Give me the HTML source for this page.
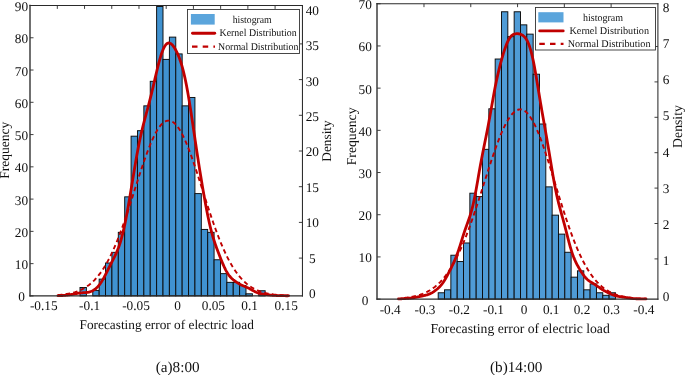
<!DOCTYPE html>
<html><head><meta charset="utf-8"><title>Histogram figure</title>
<style>
html,body{margin:0;padding:0;background:#fff;}
body{width:685px;height:375px;overflow:hidden;}
svg{display:block;will-change:transform;font-family:"Liberation Serif",serif;fill:#111;text-rendering:geometricPrecision;}
</style></head><body>
<svg width="685" height="375" viewBox="0 0 685 375">
<g fill="#4092d0" stroke="#0c0c0c" stroke-width="0.95">
<rect x="80.00" y="287.51" width="6.38" height="8.39"/>
<rect x="92.77" y="290.41" width="6.38" height="5.49"/>
<rect x="99.16" y="279.12" width="6.38" height="16.78"/>
<rect x="105.54" y="262.99" width="6.38" height="32.91"/>
<rect x="111.92" y="252.34" width="6.38" height="43.56"/>
<rect x="118.31" y="232.33" width="6.38" height="63.57"/>
<rect x="124.69" y="196.84" width="6.38" height="99.06"/>
<rect x="131.08" y="136.18" width="6.38" height="159.72"/>
<rect x="137.47" y="130.69" width="6.38" height="165.21"/>
<rect x="143.85" y="105.85" width="6.38" height="190.05"/>
<rect x="150.24" y="81.33" width="6.38" height="214.57"/>
<rect x="156.62" y="6.50" width="6.38" height="289.40"/>
<rect x="163.00" y="59.39" width="6.38" height="236.51"/>
<rect x="169.39" y="37.12" width="6.38" height="258.78"/>
<rect x="175.77" y="53.90" width="6.38" height="242.00"/>
<rect x="182.16" y="105.85" width="6.38" height="190.05"/>
<rect x="188.55" y="97.46" width="6.38" height="198.44"/>
<rect x="194.93" y="193.61" width="6.38" height="102.29"/>
<rect x="201.31" y="229.43" width="6.38" height="66.47"/>
<rect x="207.70" y="232.33" width="6.38" height="63.57"/>
<rect x="214.09" y="259.76" width="6.38" height="36.14"/>
<rect x="220.47" y="273.64" width="6.38" height="22.26"/>
<rect x="226.85" y="282.35" width="6.38" height="13.55"/>
<rect x="233.24" y="282.35" width="6.38" height="13.55"/>
<rect x="239.62" y="285.57" width="6.38" height="10.33"/>
<rect x="246.01" y="293.80" width="6.38" height="2.10"/>
<rect x="258.78" y="290.74" width="6.38" height="5.16"/>
</g>
<path d="M58.00,295.07 L58.78,295.01 L59.55,294.94 L60.33,294.86 L61.10,294.78 L61.88,294.70 L62.66,294.61 L63.43,294.51 L64.21,294.41 L64.98,294.30 L65.76,294.19 L66.54,294.06 L67.31,293.93 L68.09,293.79 L68.86,293.65 L69.64,293.49 L70.41,293.32 L71.19,293.14 L71.97,292.96 L72.74,292.76 L73.52,292.55 L74.29,292.32 L75.07,292.09 L75.85,291.84 L76.62,291.58 L77.40,291.30 L78.17,291.01 L78.95,290.70 L79.73,290.37 L80.50,290.03 L81.28,289.67 L82.05,289.29 L82.83,288.89 L83.61,288.48 L84.38,288.04 L85.16,287.58 L85.93,287.09 L86.71,286.59 L87.48,286.06 L88.26,285.50 L89.04,284.92 L89.81,284.31 L90.59,283.68 L91.36,283.02 L92.14,282.33 L92.92,281.61 L93.69,280.86 L94.47,280.08 L95.24,279.27 L96.02,278.42 L96.80,277.54 L97.57,276.63 L98.35,275.68 L99.12,274.70 L99.90,273.68 L100.68,272.63 L101.45,271.54 L102.23,270.41 L103.00,269.24 L103.78,268.03 L104.56,266.78 L105.33,265.50 L106.11,264.17 L106.88,262.80 L107.66,261.39 L108.43,259.95 L109.21,258.46 L109.99,256.93 L110.76,255.35 L111.54,253.74 L112.31,252.09 L113.09,250.39 L113.87,248.65 L114.64,246.88 L115.42,245.06 L116.19,243.21 L116.97,241.31 L117.75,239.38 L118.52,237.41 L119.30,235.40 L120.07,233.35 L120.85,231.28 L121.63,229.16 L122.40,227.02 L123.18,224.84 L123.95,222.63 L124.73,220.40 L125.51,218.14 L126.28,215.85 L127.06,213.53 L127.83,211.20 L128.61,208.84 L129.38,206.47 L130.16,204.08 L130.94,201.68 L131.71,199.26 L132.49,196.84 L133.26,194.40 L134.04,191.97 L134.82,189.52 L135.59,187.08 L136.37,184.65 L137.14,182.21 L137.92,179.79 L138.70,177.38 L139.47,174.98 L140.25,172.59 L141.02,170.23 L141.80,167.89 L142.58,165.57 L143.35,163.28 L144.13,161.02 L144.90,158.80 L145.68,156.61 L146.45,154.46 L147.23,152.36 L148.01,150.30 L148.78,148.28 L149.56,146.32 L150.33,144.42 L151.11,142.57 L151.89,140.77 L152.66,139.04 L153.44,137.38 L154.21,135.78 L154.99,134.25 L155.77,132.79 L156.54,131.41 L157.32,130.10 L158.09,128.87 L158.87,127.72 L159.65,126.65 L160.42,125.66 L161.20,124.75 L161.97,123.94 L162.75,123.21 L163.53,122.56 L164.30,122.01 L165.08,121.55 L165.85,121.18 L166.63,120.90 L167.40,120.71 L168.18,120.61 L168.96,120.61 L169.73,120.70 L170.51,120.88 L171.28,121.15 L172.06,121.52 L172.84,121.97 L173.61,122.52 L174.39,123.15 L175.16,123.87 L175.94,124.68 L176.72,125.58 L177.49,126.56 L178.27,127.63 L179.04,128.77 L179.82,130.00 L180.60,131.30 L181.37,132.68 L182.15,134.13 L182.92,135.65 L183.70,137.25 L184.47,138.91 L185.25,140.63 L186.03,142.42 L186.80,144.26 L187.58,146.17 L188.35,148.12 L189.13,150.13 L189.91,152.19 L190.68,154.29 L191.46,156.43 L192.23,158.62 L193.01,160.84 L193.79,163.10 L194.56,165.38 L195.34,167.70 L196.11,170.04 L196.89,172.40 L197.67,174.78 L198.44,177.18 L199.22,179.59 L199.99,182.02 L200.77,184.45 L201.55,186.89 L202.32,189.33 L203.10,191.77 L203.87,194.21 L204.65,196.64 L205.42,199.07 L206.20,201.48 L206.98,203.89 L207.75,206.28 L208.53,208.65 L209.30,211.01 L210.08,213.35 L210.86,215.66 L211.63,217.95 L212.41,220.22 L213.18,222.45 L213.96,224.66 L214.74,226.84 L215.51,228.99 L216.29,231.11 L217.06,233.19 L217.84,235.23 L218.62,237.24 L219.39,239.22 L220.17,241.16 L220.94,243.05 L221.72,244.91 L222.49,246.73 L223.27,248.51 L224.05,250.25 L224.82,251.95 L225.60,253.61 L226.37,255.22 L227.15,256.80 L227.93,258.33 L228.70,259.83 L229.48,261.28 L230.25,262.69 L231.03,264.06 L231.81,265.39 L232.58,266.68 L233.36,267.93 L234.13,269.14 L234.91,270.31 L235.69,271.45 L236.46,272.54 L237.24,273.60 L238.01,274.62 L238.79,275.61 L239.57,276.56 L240.34,277.47 L241.12,278.35 L241.89,279.20 L242.67,280.01 L243.44,280.80 L244.22,281.55 L245.00,282.27 L245.77,282.96 L246.55,283.63 L247.32,284.26 L248.10,284.87 L248.88,285.46 L249.65,286.01 L250.43,286.54 L251.20,287.05 L251.98,287.54 L252.76,288.00 L253.53,288.44 L254.31,288.86 L255.08,289.26 L255.86,289.64 L256.64,290.00 L257.41,290.35 L258.19,290.67 L258.96,290.98 L259.74,291.28 L260.52,291.56 L261.29,291.82 L262.07,292.07 L262.84,292.31 L263.62,292.53 L264.39,292.74 L265.17,292.94 L265.95,293.13 L266.72,293.31 L267.50,293.48 L268.27,293.63 L269.05,293.78 L269.83,293.92 L270.60,294.05 L271.38,294.18 L272.15,294.29 L272.93,294.40 L273.71,294.51 L274.48,294.60 L275.26,294.69 L276.03,294.78 L276.81,294.86 L277.59,294.93 L278.36,295.00 L279.14,295.07 L279.91,295.13 L280.69,295.18 L281.46,295.24 L282.24,295.28 L283.02,295.33 L283.79,295.37 L284.57,295.41 L285.34,295.45 L286.12,295.48 L286.90,295.52 L287.67,295.55 L288.45,295.57 L289.22,295.60 L290.00,295.62" fill="none" stroke="#c00000" stroke-width="1.9" stroke-dasharray="4.5,3.2"/>
<path d="M58.00,295.72 L58.58,295.70 L59.15,295.67 L59.73,295.65 L60.31,295.62 L60.88,295.59 L61.46,295.56 L62.04,295.52 L62.61,295.49 L63.19,295.45 L63.76,295.40 L64.34,295.36 L64.92,295.31 L65.49,295.26 L66.07,295.20 L66.65,295.15 L67.22,295.08 L67.80,295.01 L68.38,294.94 L68.95,294.86 L69.53,294.78 L70.11,294.69 L70.68,294.60 L71.26,294.50 L71.83,294.40 L72.41,294.29 L72.99,294.19 L73.56,294.07 L74.14,293.96 L74.72,293.85 L75.29,293.74 L75.87,293.63 L76.45,293.52 L77.02,293.42 L77.60,293.32 L78.18,293.23 L78.75,293.14 L79.33,293.07 L79.90,293.00 L80.48,292.94 L81.06,292.88 L81.63,292.84 L82.21,292.80 L82.79,292.76 L83.36,292.72 L83.94,292.69 L84.52,292.65 L85.09,292.61 L85.67,292.57 L86.25,292.51 L86.82,292.44 L87.40,292.36 L87.97,292.27 L88.55,292.16 L89.13,292.02 L89.70,291.87 L90.28,291.69 L90.86,291.48 L91.43,291.26 L92.01,291.00 L92.59,290.71 L93.16,290.40 L93.74,290.05 L94.32,289.67 L94.89,289.26 L95.47,288.82 L96.05,288.34 L96.62,287.82 L97.20,287.26 L97.77,286.67 L98.35,286.03 L98.93,285.35 L99.50,284.63 L100.08,283.86 L100.66,283.05 L101.23,282.20 L101.81,281.30 L102.39,280.36 L102.96,279.37 L103.54,278.36 L104.12,277.30 L104.69,276.22 L105.27,275.11 L105.84,273.98 L106.42,272.83 L107.00,271.67 L107.57,270.51 L108.15,269.34 L108.73,268.17 L109.30,267.01 L109.88,265.85 L110.46,264.71 L111.03,263.57 L111.61,262.44 L112.19,261.32 L112.76,260.20 L113.34,259.07 L113.91,257.94 L114.49,256.79 L115.07,255.62 L115.64,254.42 L116.22,253.17 L116.80,251.87 L117.37,250.51 L117.95,249.09 L118.53,247.58 L119.10,245.99 L119.68,244.30 L120.26,242.50 L120.83,240.61 L121.41,238.60 L121.98,236.47 L122.56,234.23 L123.14,231.87 L123.71,229.39 L124.29,226.80 L124.87,224.10 L125.44,221.28 L126.02,218.37 L126.60,215.36 L127.17,212.25 L127.75,209.06 L128.33,205.80 L128.90,202.48 L129.48,199.09 L130.06,195.66 L130.63,192.19 L131.21,188.70 L131.78,185.19 L132.36,181.67 L132.94,178.16 L133.51,174.67 L134.09,171.20 L134.67,167.76 L135.24,164.37 L135.82,161.04 L136.40,157.76 L136.97,154.56 L137.55,151.43 L138.13,148.38 L138.70,145.42 L139.28,142.55 L139.85,139.76 L140.43,137.06 L141.01,134.45 L141.58,131.93 L142.16,129.48 L142.74,127.10 L143.31,124.79 L143.89,122.53 L144.47,120.32 L145.04,118.15 L145.62,116.01 L146.20,113.88 L146.77,111.76 L147.35,109.64 L147.92,107.50 L148.50,105.34 L149.08,103.16 L149.65,100.95 L150.23,98.69 L150.81,96.40 L151.38,94.07 L151.96,91.70 L152.54,89.29 L153.11,86.85 L153.69,84.39 L154.27,81.91 L154.84,79.42 L155.42,76.94 L155.99,74.46 L156.57,72.01 L157.15,69.60 L157.72,67.24 L158.30,64.94 L158.88,62.71 L159.45,60.56 L160.03,58.51 L160.61,56.57 L161.18,54.73 L161.76,53.02 L162.34,51.43 L162.91,49.97 L163.49,48.65 L164.07,47.47 L164.64,46.43 L165.22,45.53 L165.79,44.77 L166.37,44.15 L166.95,43.66 L167.52,43.31 L168.10,43.10 L168.68,43.00 L169.25,43.03 L169.83,43.17 L170.41,43.43 L170.98,43.78 L171.56,44.24 L172.14,44.79 L172.71,45.42 L173.29,46.14 L173.86,46.93 L174.44,47.80 L175.02,48.74 L175.59,49.75 L176.17,50.83 L176.75,51.98 L177.32,53.20 L177.90,54.49 L178.48,55.85 L179.05,57.30 L179.63,58.83 L180.21,60.45 L180.78,62.16 L181.36,63.98 L181.93,65.91 L182.51,67.95 L183.09,70.12 L183.66,72.40 L184.24,74.82 L184.82,77.37 L185.39,80.05 L185.97,82.86 L186.55,85.80 L187.12,88.87 L187.70,92.06 L188.28,95.37 L188.85,98.79 L189.43,102.30 L190.01,105.90 L190.58,109.58 L191.16,113.33 L191.73,117.13 L192.31,120.98 L192.89,124.85 L193.46,128.74 L194.04,132.64 L194.62,136.54 L195.19,140.43 L195.77,144.30 L196.35,148.14 L196.92,151.96 L197.50,155.74 L198.08,159.48 L198.65,163.19 L199.23,166.85 L199.80,170.47 L200.38,174.05 L200.96,177.59 L201.53,181.08 L202.11,184.53 L202.69,187.94 L203.26,191.30 L203.84,194.61 L204.42,197.87 L204.99,201.08 L205.57,204.22 L206.15,207.29 L206.72,210.29 L207.30,213.22 L207.87,216.05 L208.45,218.80 L209.03,221.46 L209.60,224.01 L210.18,226.47 L210.76,228.83 L211.33,231.08 L211.91,233.24 L212.49,235.30 L213.06,237.27 L213.64,239.16 L214.22,240.98 L214.79,242.73 L215.37,244.42 L215.94,246.06 L216.52,247.66 L217.10,249.23 L217.67,250.77 L218.25,252.29 L218.83,253.79 L219.40,255.28 L219.98,256.75 L220.56,258.21 L221.13,259.66 L221.71,261.08 L222.29,262.48 L222.86,263.85 L223.44,265.18 L224.02,266.47 L224.59,267.72 L225.17,268.91 L225.74,270.04 L226.32,271.12 L226.90,272.13 L227.47,273.08 L228.05,273.97 L228.63,274.80 L229.20,275.57 L229.78,276.29 L230.36,276.96 L230.93,277.58 L231.51,278.16 L232.09,278.71 L232.66,279.22 L233.24,279.72 L233.81,280.18 L234.39,280.63 L234.97,281.07 L235.54,281.49 L236.12,281.89 L236.70,282.29 L237.27,282.67 L237.85,283.04 L238.43,283.39 L239.00,283.73 L239.58,284.06 L240.16,284.37 L240.73,284.67 L241.31,284.96 L241.88,285.23 L242.46,285.49 L243.04,285.75 L243.61,286.00 L244.19,286.24 L244.77,286.48 L245.34,286.72 L245.92,286.97 L246.50,287.22 L247.07,287.48 L247.65,287.75 L248.23,288.03 L248.80,288.31 L249.38,288.61 L249.95,288.92 L250.53,289.23 L251.11,289.54 L251.68,289.87 L252.26,290.19 L252.84,290.51 L253.41,290.82 L253.99,291.13 L254.57,291.43 L255.14,291.71 L255.72,291.99 L256.30,292.25 L256.87,292.49 L257.45,292.71 L258.03,292.92 L258.60,293.11 L259.18,293.29 L259.75,293.45 L260.33,293.59 L260.91,293.72 L261.48,293.84 L262.06,293.95 L262.64,294.05 L263.21,294.15 L263.79,294.24 L264.37,294.32 L264.94,294.40 L265.52,294.47 L266.10,294.55 L266.67,294.62 L267.25,294.69 L267.82,294.76 L268.40,294.82 L268.98,294.89 L269.55,294.95 L270.13,295.02 L270.71,295.07 L271.28,295.13 L271.86,295.19 L272.44,295.24 L273.01,295.28 L273.59,295.33 L274.17,295.37 L274.74,295.41 L275.32,295.44 L275.89,295.47 L276.47,295.50 L277.05,295.52 L277.62,295.54 L278.20,295.56 L278.78,295.58 L279.35,295.60 L279.93,295.61 L280.51,295.63 L281.08,295.64 L281.66,295.65 L282.24,295.67 L282.81,295.68 L283.39,295.69 L283.96,295.70 L284.54,295.71 L285.12,295.72 L285.69,295.74 L286.27,295.75 L286.85,295.76 L287.42,295.77 L288.00,295.78" fill="none" stroke="#c00000" stroke-width="2.8" stroke-linecap="round" stroke-linejoin="round"/>
<g stroke="#2a2a2a" fill="none" stroke-linecap="square"><path d="M30.0,5.5 V295.9" stroke-width="1.35"/><path d="M30.0,5.5 H302.45" stroke-width="1.05"/><path d="M302.45,5.5 V295.9" stroke-width="1.05"/><path d="M30.0,295.85 H302.45" stroke-width="1.15"/></g>
<path d="M57.32,5.5 v3.4 M84.54,5.5 v3.4 M111.76,5.5 v3.4 M138.98,5.5 v3.4 M166.20,5.5 v3.4 M193.42,5.5 v3.4 M220.64,5.5 v3.4 M247.86,5.5 v3.4 M275.08,5.5 v3.4 M30.1,295.90 h3.4 M30.1,263.63 h3.4 M30.1,231.37 h3.4 M30.1,199.10 h3.4 M30.1,166.83 h3.4 M30.1,134.57 h3.4 M30.1,102.30 h3.4 M30.1,70.03 h3.4 M30.1,37.77 h3.4 M30.1,5.50 h3.4 M302.3,258.10 h-3.4 M302.3,222.40 h-3.4 M302.3,186.70 h-3.4 M302.3,151.00 h-3.4 M302.3,115.30 h-3.4 M302.3,79.60 h-3.4 M302.3,43.90 h-3.4" stroke="#2a2a2a" stroke-width="0.9" fill="none"/>
<g font-size="13.3" text-anchor="middle">
<text x="21.5" y="301.40">0</text>
<text x="21.5" y="269.13">10</text>
<text x="21.5" y="236.87">20</text>
<text x="21.5" y="204.60">30</text>
<text x="21.5" y="172.33">40</text>
<text x="21.5" y="140.07">50</text>
<text x="21.5" y="107.80">60</text>
<text x="21.5" y="75.53">70</text>
<text x="21.5" y="43.27">80</text>
<text x="21.5" y="11.00">90</text>
</g>
<g font-size="13.3" text-anchor="middle">
<text x="312.3" y="298.20">0</text>
<text x="312.3" y="262.75">5</text>
<text x="312.3" y="227.30">10</text>
<text x="312.3" y="191.85">15</text>
<text x="312.3" y="156.40">20</text>
<text x="312.3" y="120.95">25</text>
<text x="312.3" y="85.50">30</text>
<text x="312.3" y="50.05">35</text>
<text x="312.3" y="14.60">40</text>
</g>
<g font-size="13.3" text-anchor="middle">
<text x="43.8" y="310.4">-0.15</text>
<text x="89.6" y="310.4">-0.1</text>
<text x="136.0" y="310.4">-0.05</text>
<text x="177.5" y="310.4">0</text>
<text x="213.4" y="310.4">0.05</text>
<text x="249.6" y="310.4">0.1</text>
<text x="286.2" y="310.4">0.15</text>
</g>
<text x="166.7" y="328.6" font-size="13.3" text-anchor="middle">Forecasting error of electric load</text>
<text x="177.7" y="371.7" font-size="15.2" text-anchor="middle">(a)8:00</text>
<text transform="translate(9.2,150.2) rotate(-90)" font-size="13.55" text-anchor="middle">Frequency</text>
<text transform="translate(331.3,141) rotate(-90)" font-size="13.3" text-anchor="middle">Density</text>
<rect x="187.5" y="9.5" width="112.0" height="44.0" fill="#fff" stroke="#333" stroke-width="0.9"/>
<rect x="190.9" y="14" width="23.8" height="10.6" fill="#5ba5dc"/>
<path d="M192.5,33.3 H214.7" stroke="#c00000" stroke-width="2.9" stroke-linecap="round"/>
<path d="M192,46.7 H215" stroke="#c00000" stroke-width="2.3" stroke-dasharray="5.5,5.2"/>
<g font-size="10.4">
<text x="252.2" y="22.6" text-anchor="middle" textLength="39" lengthAdjust="spacingAndGlyphs">histogram</text>
<text x="219.5" y="36.2" textLength="77.2" lengthAdjust="spacingAndGlyphs">Kernel Distribution</text>
<text x="218" y="49.8" textLength="80.5" lengthAdjust="spacingAndGlyphs">Normal Distribution</text>
</g>
<g fill="#4f9bd6" stroke="#0c0c0c" stroke-width="0.95">
<rect x="438.20" y="292.77" width="6.33" height="6.33"/>
<rect x="444.53" y="289.82" width="6.33" height="9.28"/>
<rect x="450.86" y="255.22" width="6.33" height="43.88"/>
<rect x="457.19" y="261.55" width="6.33" height="37.55"/>
<rect x="463.52" y="242.98" width="6.33" height="56.12"/>
<rect x="469.85" y="193.20" width="6.33" height="105.90"/>
<rect x="476.18" y="196.57" width="6.33" height="102.53"/>
<rect x="482.51" y="149.32" width="6.33" height="149.78"/>
<rect x="488.84" y="108.81" width="6.33" height="190.29"/>
<rect x="495.17" y="59.02" width="6.33" height="240.08"/>
<rect x="501.50" y="11.77" width="6.33" height="287.33"/>
<rect x="507.83" y="36.66" width="6.33" height="262.44"/>
<rect x="514.16" y="11.77" width="6.33" height="287.33"/>
<rect x="520.49" y="24.85" width="6.33" height="274.25"/>
<rect x="526.82" y="34.13" width="6.33" height="264.97"/>
<rect x="533.15" y="74.21" width="6.33" height="224.89"/>
<rect x="539.48" y="124.00" width="6.33" height="175.10"/>
<rect x="545.81" y="186.87" width="6.33" height="112.23"/>
<rect x="552.14" y="215.14" width="6.33" height="83.96"/>
<rect x="558.47" y="234.12" width="6.33" height="64.98"/>
<rect x="564.80" y="252.27" width="6.33" height="46.83"/>
<rect x="571.13" y="277.16" width="6.33" height="21.94"/>
<rect x="577.46" y="270.83" width="6.33" height="28.27"/>
<rect x="583.79" y="289.82" width="6.33" height="9.28"/>
<rect x="590.12" y="283.91" width="6.33" height="15.19"/>
<rect x="596.45" y="292.77" width="6.33" height="6.33"/>
<rect x="602.78" y="295.30" width="6.33" height="3.80"/>
<rect x="609.11" y="292.77" width="6.33" height="6.33"/>
</g>
<path d="M404.00,297.92 L404.81,297.83 L405.62,297.74 L406.43,297.64 L407.24,297.54 L408.05,297.42 L408.86,297.31 L409.67,297.18 L410.47,297.05 L411.28,296.91 L412.09,296.76 L412.90,296.60 L413.71,296.43 L414.52,296.25 L415.33,296.07 L416.14,295.87 L416.95,295.66 L417.76,295.43 L418.57,295.20 L419.38,294.95 L420.19,294.69 L421.00,294.41 L421.81,294.12 L422.62,293.82 L423.42,293.50 L424.23,293.16 L425.04,292.80 L425.85,292.43 L426.66,292.04 L427.47,291.63 L428.28,291.19 L429.09,290.74 L429.90,290.27 L430.71,289.77 L431.52,289.25 L432.33,288.71 L433.14,288.14 L433.95,287.55 L434.76,286.93 L435.57,286.28 L436.37,285.61 L437.18,284.91 L437.99,284.18 L438.80,283.41 L439.61,282.62 L440.42,281.80 L441.23,280.94 L442.04,280.05 L442.85,279.13 L443.66,278.17 L444.47,277.18 L445.28,276.16 L446.09,275.09 L446.90,273.99 L447.71,272.85 L448.52,271.67 L449.32,270.46 L450.13,269.20 L450.94,267.91 L451.75,266.58 L452.56,265.20 L453.37,263.79 L454.18,262.33 L454.99,260.83 L455.80,259.29 L456.61,257.71 L457.42,256.09 L458.23,254.43 L459.04,252.72 L459.85,250.97 L460.66,249.19 L461.46,247.36 L462.27,245.49 L463.08,243.58 L463.89,241.63 L464.70,239.64 L465.51,237.61 L466.32,235.54 L467.13,233.44 L467.94,231.30 L468.75,229.13 L469.56,226.92 L470.37,224.68 L471.18,222.41 L471.99,220.10 L472.80,217.77 L473.61,215.41 L474.41,213.02 L475.22,210.61 L476.03,208.18 L476.84,205.72 L477.65,203.25 L478.46,200.75 L479.27,198.25 L480.08,195.73 L480.89,193.20 L481.70,190.66 L482.51,188.11 L483.32,185.56 L484.13,183.01 L484.94,180.46 L485.75,177.91 L486.56,175.37 L487.36,172.84 L488.17,170.32 L488.98,167.82 L489.79,165.33 L490.60,162.86 L491.41,160.41 L492.22,157.99 L493.03,155.60 L493.84,153.24 L494.65,150.91 L495.46,148.62 L496.27,146.37 L497.08,144.16 L497.89,142.00 L498.70,139.88 L499.51,137.82 L500.31,135.81 L501.12,133.85 L501.93,131.96 L502.74,130.13 L503.55,128.36 L504.36,126.65 L505.17,125.02 L505.98,123.45 L506.79,121.96 L507.60,120.54 L508.41,119.21 L509.22,117.95 L510.03,116.77 L510.84,115.67 L511.65,114.66 L512.45,113.73 L513.26,112.89 L514.07,112.14 L514.88,111.48 L515.69,110.91 L516.50,110.42 L517.31,110.03 L518.12,109.74 L518.93,109.53 L519.74,109.42 L520.55,109.40 L521.36,109.49 L522.17,109.67 L522.98,109.95 L523.79,110.34 L524.60,110.82 L525.40,111.41 L526.21,112.09 L527.02,112.87 L527.83,113.74 L528.64,114.71 L529.45,115.78 L530.26,116.93 L531.07,118.17 L531.88,119.50 L532.69,120.92 L533.50,122.42 L534.31,124.00 L535.12,125.66 L535.93,127.40 L536.74,129.20 L537.55,131.08 L538.35,133.03 L539.16,135.05 L539.97,137.12 L540.78,139.26 L541.59,141.45 L542.40,143.69 L543.21,145.98 L544.02,148.32 L544.83,150.71 L545.64,153.13 L546.45,155.59 L547.26,158.09 L548.07,160.62 L548.88,163.17 L549.69,165.75 L550.49,168.35 L551.30,170.96 L552.11,173.60 L552.92,176.24 L553.73,178.89 L554.54,181.55 L555.35,184.21 L556.16,186.87 L556.97,189.53 L557.78,192.18 L558.59,194.82 L559.40,197.45 L560.21,200.07 L561.02,202.67 L561.83,205.26 L562.64,207.82 L563.44,210.36 L564.25,212.88 L565.06,215.37 L565.87,217.83 L566.68,220.27 L567.49,222.66 L568.30,225.03 L569.11,227.36 L569.92,229.66 L570.73,231.92 L571.54,234.13 L572.35,236.31 L573.16,238.45 L573.97,240.55 L574.78,242.60 L575.59,244.62 L576.39,246.58 L577.20,248.51 L578.01,250.39 L578.82,252.22 L579.63,254.01 L580.44,255.76 L581.25,257.46 L582.06,259.11 L582.87,260.72 L583.68,262.29 L584.49,263.80 L585.30,265.28 L586.11,266.71 L586.92,268.10 L587.73,269.44 L588.54,270.74 L589.34,272.00 L590.15,273.21 L590.96,274.39 L591.77,275.52 L592.58,276.61 L593.39,277.67 L594.20,278.68 L595.01,279.66 L595.82,280.60 L596.63,281.51 L597.44,282.38 L598.25,283.21 L599.06,284.01 L599.87,284.78 L600.68,285.52 L601.48,286.23 L602.29,286.90 L603.10,287.55 L603.91,288.17 L604.72,288.76 L605.53,289.32 L606.34,289.86 L607.15,290.37 L607.96,290.86 L608.77,291.33 L609.58,291.77 L610.39,292.19 L611.20,292.59 L612.01,292.97 L612.82,293.33 L613.63,293.68 L614.43,294.00 L615.24,294.31 L616.05,294.60 L616.86,294.88 L617.67,295.14 L618.48,295.39 L619.29,295.62 L620.10,295.85 L620.91,296.05 L621.72,296.25 L622.53,296.44 L623.34,296.61 L624.15,296.78 L624.96,296.93 L625.77,297.08 L626.58,297.21 L627.38,297.34 L628.19,297.46 L629.00,297.57 L629.81,297.68 L630.62,297.78 L631.43,297.87 L632.24,297.96 L633.05,298.04 L633.86,298.12 L634.67,298.19 L635.48,298.26 L636.29,298.32 L637.10,298.38 L637.91,298.43 L638.72,298.48 L639.53,298.53 L640.33,298.57 L641.14,298.61 L641.95,298.65 L642.76,298.68 L643.57,298.72 L644.38,298.75 L645.19,298.77 L646.00,298.80" fill="none" stroke="#c00000" stroke-width="1.9" stroke-dasharray="4.5,3.2"/>
<path d="M398.50,298.90 L399.12,298.87 L399.74,298.84 L400.36,298.81 L400.98,298.77 L401.60,298.74 L402.22,298.70 L402.84,298.66 L403.46,298.62 L404.08,298.58 L404.70,298.54 L405.32,298.50 L405.94,298.45 L406.56,298.41 L407.18,298.37 L407.80,298.32 L408.42,298.27 L409.05,298.22 L409.67,298.16 L410.29,298.11 L410.91,298.04 L411.53,297.98 L412.15,297.90 L412.77,297.82 L413.39,297.74 L414.01,297.65 L414.63,297.55 L415.25,297.44 L415.87,297.33 L416.49,297.22 L417.11,297.09 L417.73,296.97 L418.35,296.84 L418.97,296.71 L419.59,296.57 L420.21,296.44 L420.83,296.30 L421.45,296.17 L422.07,296.03 L422.69,295.89 L423.31,295.76 L423.93,295.61 L424.55,295.47 L425.17,295.32 L425.79,295.16 L426.41,294.99 L427.03,294.81 L427.65,294.61 L428.27,294.40 L428.89,294.17 L429.52,293.92 L430.14,293.65 L430.76,293.36 L431.38,293.04 L432.00,292.71 L432.62,292.35 L433.24,291.97 L433.86,291.57 L434.48,291.14 L435.10,290.70 L435.72,290.24 L436.34,289.75 L436.96,289.24 L437.58,288.71 L438.20,288.15 L438.82,287.57 L439.44,286.95 L440.06,286.30 L440.68,285.61 L441.30,284.87 L441.92,284.10 L442.54,283.27 L443.16,282.40 L443.78,281.48 L444.40,280.51 L445.02,279.50 L445.64,278.45 L446.26,277.35 L446.88,276.23 L447.50,275.07 L448.12,273.89 L448.74,272.69 L449.36,271.47 L449.98,270.25 L450.61,269.01 L451.23,267.76 L451.85,266.49 L452.47,265.21 L453.09,263.90 L453.71,262.56 L454.33,261.18 L454.95,259.76 L455.57,258.28 L456.19,256.73 L456.81,255.12 L457.43,253.44 L458.05,251.70 L458.67,249.88 L459.29,248.00 L459.91,246.08 L460.53,244.11 L461.15,242.12 L461.77,240.12 L462.39,238.13 L463.01,236.16 L463.63,234.22 L464.25,232.32 L464.87,230.47 L465.49,228.67 L466.11,226.91 L466.73,225.19 L467.35,223.49 L467.97,221.79 L468.59,220.07 L469.21,218.30 L469.83,216.45 L470.45,214.51 L471.08,212.43 L471.70,210.21 L472.32,207.82 L472.94,205.26 L473.56,202.52 L474.18,199.61 L474.80,196.53 L475.42,193.30 L476.04,189.95 L476.66,186.50 L477.28,182.98 L477.90,179.43 L478.52,175.86 L479.14,172.31 L479.76,168.80 L480.38,165.35 L481.00,161.97 L481.62,158.67 L482.24,155.44 L482.86,152.29 L483.48,149.18 L484.10,146.12 L484.72,143.08 L485.34,140.03 L485.96,136.97 L486.58,133.86 L487.20,130.70 L487.82,127.48 L488.44,124.19 L489.06,120.83 L489.68,117.41 L490.30,113.94 L490.92,110.43 L491.55,106.91 L492.17,103.39 L492.79,99.90 L493.41,96.45 L494.03,93.07 L494.65,89.77 L495.27,86.56 L495.89,83.46 L496.51,80.47 L497.13,77.59 L497.75,74.82 L498.37,72.15 L498.99,69.58 L499.61,67.09 L500.23,64.69 L500.85,62.36 L501.47,60.09 L502.09,57.90 L502.71,55.76 L503.33,53.70 L503.95,51.70 L504.57,49.79 L505.19,47.96 L505.81,46.22 L506.43,44.59 L507.05,43.07 L507.67,41.67 L508.29,40.40 L508.91,39.25 L509.53,38.23 L510.15,37.34 L510.77,36.57 L511.39,35.92 L512.02,35.37 L512.64,34.92 L513.26,34.56 L513.88,34.28 L514.50,34.06 L515.12,33.90 L515.74,33.79 L516.36,33.72 L516.98,33.70 L517.60,33.71 L518.22,33.75 L518.84,33.84 L519.46,33.96 L520.08,34.12 L520.70,34.33 L521.32,34.58 L521.94,34.89 L522.56,35.26 L523.18,35.70 L523.80,36.22 L524.42,36.82 L525.04,37.51 L525.66,38.31 L526.28,39.22 L526.90,40.26 L527.52,41.44 L528.14,42.78 L528.76,44.28 L529.38,45.96 L530.00,47.82 L530.62,49.88 L531.24,52.14 L531.86,54.60 L532.48,57.25 L533.11,60.10 L533.73,63.14 L534.35,66.34 L534.97,69.69 L535.59,73.17 L536.21,76.76 L536.83,80.43 L537.45,84.16 L538.07,87.92 L538.69,91.69 L539.31,95.46 L539.93,99.20 L540.55,102.90 L541.17,106.56 L541.79,110.17 L542.41,113.73 L543.03,117.26 L543.65,120.76 L544.27,124.25 L544.89,127.73 L545.51,131.22 L546.13,134.74 L546.75,138.29 L547.37,141.89 L547.99,145.54 L548.61,149.23 L549.23,152.97 L549.85,156.73 L550.47,160.52 L551.09,164.30 L551.71,168.06 L552.33,171.78 L552.95,175.43 L553.58,178.99 L554.20,182.44 L554.82,185.77 L555.44,188.96 L556.06,192.01 L556.68,194.91 L557.30,197.67 L557.92,200.30 L558.54,202.81 L559.16,205.22 L559.78,207.55 L560.40,209.83 L561.02,212.06 L561.64,214.28 L562.26,216.51 L562.88,218.75 L563.50,221.03 L564.12,223.34 L564.74,225.69 L565.36,228.08 L565.98,230.50 L566.60,232.94 L567.22,235.38 L567.84,237.81 L568.46,240.21 L569.08,242.56 L569.70,244.84 L570.32,247.05 L570.94,249.16 L571.56,251.17 L572.18,253.08 L572.80,254.87 L573.42,256.56 L574.05,258.14 L574.67,259.63 L575.29,261.02 L575.91,262.34 L576.53,263.59 L577.15,264.78 L577.77,265.93 L578.39,267.04 L579.01,268.11 L579.63,269.16 L580.25,270.18 L580.87,271.18 L581.49,272.15 L582.11,273.10 L582.73,274.01 L583.35,274.89 L583.97,275.73 L584.59,276.53 L585.21,277.28 L585.83,277.98 L586.45,278.63 L587.07,279.23 L587.69,279.78 L588.31,280.29 L588.93,280.76 L589.55,281.20 L590.17,281.61 L590.79,282.00 L591.41,282.38 L592.03,282.75 L592.65,283.12 L593.27,283.49 L593.89,283.87 L594.52,284.26 L595.14,284.66 L595.76,285.07 L596.38,285.49 L597.00,285.92 L597.62,286.35 L598.24,286.79 L598.86,287.22 L599.48,287.66 L600.10,288.08 L600.72,288.50 L601.34,288.91 L601.96,289.31 L602.58,289.70 L603.20,290.07 L603.82,290.44 L604.44,290.79 L605.06,291.13 L605.68,291.46 L606.30,291.79 L606.92,292.11 L607.54,292.42 L608.16,292.73 L608.78,293.03 L609.40,293.33 L610.02,293.61 L610.64,293.89 L611.26,294.17 L611.88,294.43 L612.50,294.68 L613.12,294.92 L613.74,295.14 L614.36,295.35 L614.98,295.55 L615.61,295.73 L616.23,295.90 L616.85,296.05 L617.47,296.19 L618.09,296.32 L618.71,296.43 L619.33,296.54 L619.95,296.64 L620.57,296.73 L621.19,296.82 L621.81,296.91 L622.43,296.99 L623.05,297.07 L623.67,297.16 L624.29,297.25 L624.91,297.33 L625.53,297.42 L626.15,297.52 L626.77,297.61 L627.39,297.70 L628.01,297.80 L628.63,297.89 L629.25,297.99 L629.87,298.08 L630.49,298.17 L631.11,298.26 L631.73,298.34 L632.35,298.41 L632.97,298.49 L633.59,298.55 L634.21,298.61 L634.83,298.66 L635.45,298.71 L636.08,298.75 L636.70,298.79 L637.32,298.82 L637.94,298.84 L638.56,298.86 L639.18,298.88 L639.80,298.89 L640.42,298.90 L641.04,298.90 L641.66,298.90 L642.28,298.90 L642.90,298.90 L643.52,298.90 L644.14,298.90 L644.76,298.90 L645.38,298.90 L646.00,298.90" fill="none" stroke="#c00000" stroke-width="2.8" stroke-linecap="round" stroke-linejoin="round"/>
<g stroke="#2a2a2a" fill="none" stroke-linecap="square"><path d="M377.0,3.75 V299.1" stroke-width="1.5" stroke="#3c3c3c"/><path d="M377.0,3.75 H657.9" stroke-width="1.05"/><path d="M657.9,3.75 V299.1" stroke-width="1.05"/><path d="M377.0,299.1 H657.9" stroke-width="1.15"/></g>
<path d="M423.98,3.75 v3.4 M470.77,3.75 v3.4 M517.55,3.75 v3.4 M564.33,3.75 v3.4 M611.12,3.75 v3.4 M377.2,299.10 h3.4 M377.2,256.91 h3.4 M377.2,214.71 h3.4 M377.2,172.52 h3.4 M377.2,130.33 h3.4 M377.2,88.14 h3.4 M377.2,45.94 h3.4 M377.2,3.75 h3.4 M657.9,258.90 h-3.4 M657.9,223.50 h-3.4 M657.9,188.10 h-3.4 M657.9,152.70 h-3.4 M657.9,117.30 h-3.4 M657.9,81.90 h-3.4 M657.9,46.50 h-3.4" stroke="#2a2a2a" stroke-width="0.9" fill="none"/>
<g font-size="13.3" text-anchor="middle">
<text x="365.2" y="304.50">0</text>
<text x="365.2" y="262.31">10</text>
<text x="365.2" y="220.11">20</text>
<text x="365.2" y="177.92">30</text>
<text x="365.2" y="135.73">40</text>
<text x="365.2" y="93.54">50</text>
<text x="365.2" y="51.34">60</text>
<text x="365.2" y="9.15">70</text>
</g>
<g font-size="13.3" text-anchor="start">
<text x="662.8" y="301.40">0</text>
<text x="662.8" y="265.20">1</text>
<text x="662.8" y="229.00">2</text>
<text x="662.8" y="192.80">3</text>
<text x="662.8" y="156.60">4</text>
<text x="662.8" y="120.40">5</text>
<text x="662.8" y="84.20">6</text>
<text x="662.8" y="48.00">7</text>
<text x="662.8" y="11.80">8</text>
</g>
<g font-size="13.3" text-anchor="middle">
<text x="390.2" y="313.9">-0.4</text>
<text x="425" y="313.9">-0.3</text>
<text x="459.4" y="313.9">-0.2</text>
<text x="493.5" y="313.9">-0.1</text>
<text x="524" y="313.9">0</text>
<text x="551.2" y="313.9">0.1</text>
<text x="582" y="313.9">0.2</text>
<text x="611.6" y="313.9">0.3</text>
<text x="643.9" y="313.9">-0.4</text>
</g>
<text x="520.1" y="332.5" font-size="13.7" text-anchor="middle">Forecasting error of electric load</text>
<text x="516.2" y="371.7" font-size="15.2" text-anchor="middle">(b)14:00</text>
<text transform="translate(356,136.4) rotate(-90)" font-size="13.7" text-anchor="middle">Frequency</text>
<text transform="translate(681.9,126.5) rotate(-90)" font-size="13.75" text-anchor="middle">Density</text>
<rect x="535.5" y="7.5" width="120.0" height="42.5" fill="#fff" stroke="#333" stroke-width="0.9"/>
<rect x="538.3" y="12.2" width="25.2" height="10.2" fill="#5ba5dc"/>
<path d="M539.7,30.9 H563.2" stroke="#c00000" stroke-width="2.9" stroke-linecap="round"/>
<path d="M539.3,43.9 H563.5" stroke="#c00000" stroke-width="2.3" stroke-dasharray="5.5,5.2"/>
<g font-size="10.4">
<text x="603" y="20.5" text-anchor="middle" textLength="40" lengthAdjust="spacingAndGlyphs">histogram</text>
<text x="569.5" y="33.8" textLength="79.5" lengthAdjust="spacingAndGlyphs">Kernel Distribution</text>
<text x="567.7" y="47.2" textLength="82.8" lengthAdjust="spacingAndGlyphs">Normal Distribution</text>
</g>
</svg>
</body></html>
